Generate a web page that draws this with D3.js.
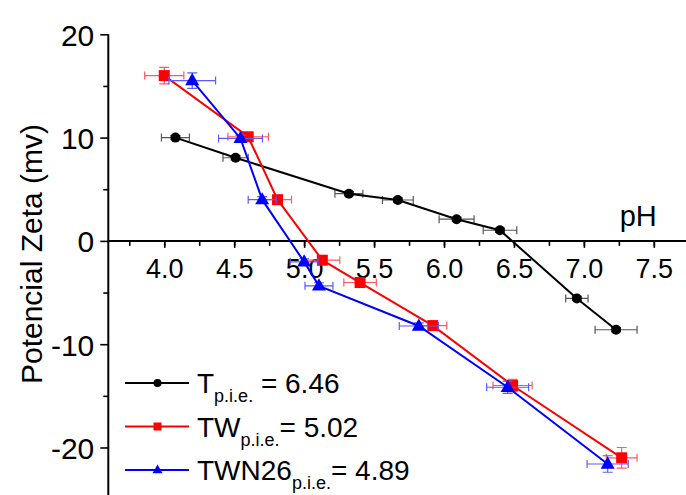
<!DOCTYPE html>
<html><head><meta charset="utf-8">
<script src="https://cdn.jsdelivr.net/npm/d3@7/dist/d3.min.js"></script>
<style>
html,body{margin:0;padding:0;background:#fff;}
svg{display:block;font-family:"Liberation Sans",Arial,sans-serif;}
</style></head>
<body>
<script>
// ---- data ----
const xTicks = [3.75,4.0,4.25,4.5,4.75,5.0,5.25,5.5,5.75,6.0,6.25,6.5,6.75,7.0,7.25,7.5];
const xTickLabels = ["4.0","4.5","5.0","5.5","6.0","6.5","7.0","7.5"];
const yTicks = [-20,-10,0,10,20];
const yTickLabels = ["-20","-10","0","10","20"];
const yMinorTicks = [-15,-5,5,15];

const tPH   = [4.08,4.51,5.32,5.67,6.09,6.40,6.95,7.23];
const tZ    = [10.0,8.05,4.57,3.96,2.10,1.03,-5.57,-8.6];
const tPHe  = [0.10,0.09,0.10,0.11,0.125,0.12,0.08,0.15];
const tZe   = [0.2,0.2,0.2,0.2,0.2,0.2,0.2,0.2];

const twPH  = [4.00,4.60,4.81,5.13,5.40,5.92,6.49,7.27];
const twZ   = [16.0,10.08,3.99,-1.87,-4.03,-8.2,-14.0,-21.0];
const twPHe = [0.14,0.145,0.10,0.125,0.116,0.10,0.14,0.11];
const twZe  = [0.8,0.3,0.3,0.3,0.3,0.3,0.6,1.0];

const twnPH  = [4.20,4.545,4.70,5.00,5.106,5.82,6.455,7.17];
const twnZ   = [15.52,9.92,3.99,-2.03,-4.35,-8.24,-14.17,-21.6];
const twnPHe = [0.167,0.157,0.10,0.10,0.10,0.14,0.15,0.147];
const twnZe  = [0.75,0.3,0.3,0.3,0.3,0.3,0.6,0.8];

const seriesNames = ["T","TW","TWN26"];
const seriesPie = ["6.46","5.02","4.89"];
const seriesColors = ["#000000","#ff0000","#0000ff"];
const errColors = ["#555555","#ff5a5a","#5a5aff"];
const seriesShapes = ["circle","square","triangle"];

const W = 686, H = 495;
const svg = d3.select("body").append("svg").attr("width",W).attr("height",H);

const x = d3.scaleLinear().domain([3.6,7.73]).range([108.3,686]);
const y = d3.scaleLinear().domain([20,-24.6]).range([34.3,495]);

// y axis
const yAxis = d3.axisLeft(y).tickValues(yTicks).tickSize(8).tickPadding(6).tickFormat((d,i)=>yTickLabels[i]);
const gy = svg.append("g").attr("transform",`translate(${x(3.6)},0)`).call(yAxis);
gy.select(".domain").attr("stroke","#000").attr("stroke-width",2).attr("d",`M0,${y(20)}V${H}`);
gy.selectAll(".tick line").attr("stroke-width",1.6);
gy.selectAll(".tick text").attr("font-size",30).attr("fill","#000").attr("font-family","Liberation Sans, Arial, sans-serif").attr("dy","0.36em");
const gym = svg.append("g").attr("transform",`translate(${x(3.6)},0)`)
  .call(d3.axisLeft(y).tickValues(yMinorTicks).tickSize(5).tickFormat(""));
gym.select(".domain").remove();
gym.selectAll(".tick line").attr("stroke-width",1.6);

// x axis at y=0
const xMajor = xTicks.filter((d,i)=>i%2===1);
const gx = svg.append("g").attr("transform",`translate(0,${y(0)})`)
  .call(d3.axisBottom(x).tickValues(xTicks).tickSize(5).tickFormat(""));
gx.select(".domain").attr("stroke","#000").attr("stroke-width",2).attr("d",`M${x(3.6)},0H${W}`);
gx.selectAll(".tick line").attr("stroke-width",1.6);
const gxl = svg.append("g").attr("transform",`translate(0,${y(0)})`)
  .call(d3.axisBottom(x).tickValues(xMajor).tickSize(7).tickPadding(11).tickFormat((d,i)=>xTickLabels[i]));
gxl.select(".domain").remove();
gxl.selectAll(".tick line").attr("stroke-width",1.6);
gxl.selectAll(".tick text").attr("font-size",27).attr("fill","#000").attr("font-family","Liberation Sans, Arial, sans-serif");

// pH label
svg.append("text").attr("x",x(7.5)+3).attr("y",y(0)-15).attr("text-anchor","end")
  .attr("font-size",29).text("pH");

// y title
svg.append("text").attr("transform",`translate(42,${254}) rotate(-90)`).attr("text-anchor","middle")
  .attr("font-size",30).text("Potencial Zeta (mv)");

// series
const series = [
  {ph:tPH,z:tZ,phe:tPHe,ze:tZe},
  {ph:twPH,z:twZ,phe:twPHe,ze:twZe},
  {ph:twnPH,z:twnZ,phe:twnPHe,ze:twnZe}
];

function marker(g, shape, cx, cy, s, color){
  if(shape==="circle"){
    g.append("circle").attr("cx",cx).attr("cy",cy).attr("r",s/2).attr("fill",color);
  } else if(shape==="square"){
    g.append("rect").attr("x",cx-s/2).attr("y",cy-s/2).attr("width",s).attr("height",s).attr("fill",color);
  } else {
    const h = s*0.87;
    g.append("path").attr("d",`M${cx},${cy-h*0.62}L${cx+s/2},${cy+h*0.38}L${cx-s/2},${cy+h*0.38}Z`).attr("fill",color);
  }
}
const markerSizes = [10,11,14];

series.forEach((s,k)=>{
  const g = svg.append("g");
  const pts = s.ph.map((p,i)=>[p,s.z[i]]);
  const eg = g.append("g").attr("stroke",errColors[k]).attr("stroke-width",1.2).attr("fill","none");
  pts.forEach((p,i)=>{
    const cx = x(p[0]), cy = y(p[1]);
    const x0 = x(p[0]-s.phe[i]), x1 = x(p[0]+s.phe[i]);
    eg.append("path").attr("d",`M${x0},${cy}H${x1}M${x0},${cy-4}V${cy+4}M${x1},${cy-4}V${cy+4}`);
    const y0 = y(p[1]+s.ze[i]), y1 = y(p[1]-s.ze[i]);
    eg.append("path").attr("d",`M${cx},${y0}V${y1}M${cx-5},${y0}H${cx+5}M${cx-5},${y1}H${cx+5}`);
  });
  g.append("path").datum(pts).attr("fill","none").attr("stroke",seriesColors[k]).attr("stroke-width",2)
    .attr("d",d3.line().x(d=>x(d[0])).y(d=>y(d[1])));
  pts.forEach(p=>marker(g,seriesShapes[k],x(p[0]),y(p[1]),markerSizes[k],seriesColors[k]));
});

// legend
const legY = [383,426.5,470];
const lg = svg.append("g");
seriesNames.forEach((n,k)=>{
  const yy = legY[k];
  lg.append("line").attr("x1",125).attr("x2",189).attr("y1",yy).attr("y2",yy)
    .attr("stroke",seriesColors[k]).attr("stroke-width",2);
  marker(lg,seriesShapes[k],157.5,yy,[8,8,10][k],seriesColors[k]);
  const t = lg.append("text").attr("x",197).attr("y",yy+10).attr("font-size",28).attr("xml:space","preserve").style("white-space","pre");
  t.append("tspan").text(n);
  t.append("tspan").attr("font-size",18).attr("dy",9).text("p.i.e.");
  t.append("tspan").attr("dy",-9).text((k===0?" ":"")+"= "+seriesPie[k]);
});
</script>
</body></html>
